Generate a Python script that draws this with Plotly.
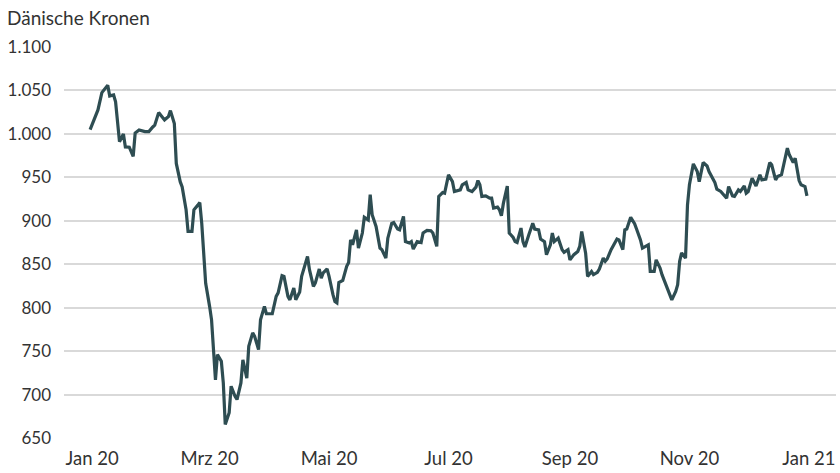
import plotly.graph_objects as go

dates = [
    "2019-12-31", "2020-01-03", "2020-01-04", "2020-01-06", "2020-01-09", "2020-01-10",
    "2020-01-12", "2020-01-13", "2020-01-15", "2020-01-17", "2020-01-18", "2020-01-20",
    "2020-01-22", "2020-01-23", "2020-01-25", "2020-01-28", "2020-01-30", "2020-02-01",
    "2020-02-02", "2020-02-04", "2020-02-07", "2020-02-09", "2020-02-10", "2020-02-12",
    "2020-02-13", "2020-02-15", "2020-02-16", "2020-02-18", "2020-02-19", "2020-02-21",
    "2020-02-22", "2020-02-24", "2020-02-25", "2020-02-26", "2020-02-28",
    "2020-03-01", "2020-03-02", "2020-03-03", "2020-03-04", "2020-03-05", "2020-03-07",
    "2020-03-08", "2020-03-09", "2020-03-11", "2020-03-12", "2020-03-14", "2020-03-15",
    "2020-03-17", "2020-03-18", "2020-03-20", "2020-03-21", "2020-03-23", "2020-03-24",
    "2020-03-26", "2020-03-27", "2020-03-29", "2020-03-30",
    "2020-04-02", "2020-04-04", "2020-04-05", "2020-04-07", "2020-04-08", "2020-04-10",
    "2020-04-11", "2020-04-13", "2020-04-14", "2020-04-16", "2020-04-17", "2020-04-20",
    "2020-04-21", "2020-04-23", "2020-04-24", "2020-04-26", "2020-04-27", "2020-04-28",
    "2020-04-30",
    "2020-05-01", "2020-05-03", "2020-05-04", "2020-05-05", "2020-05-06", "2020-05-08",
    "2020-05-10", "2020-05-11", "2020-05-12", "2020-05-13", "2020-05-15", "2020-05-16",
    "2020-05-18", "2020-05-19", "2020-05-21", "2020-05-22", "2020-05-23", "2020-05-25",
    "2020-05-27", "2020-05-28", "2020-05-30", "2020-05-31",
    "2020-06-02", "2020-06-03", "2020-06-05", "2020-06-06", "2020-06-08", "2020-06-09",
    "2020-06-11", "2020-06-12", "2020-06-13", "2020-06-15", "2020-06-17", "2020-06-18",
    "2020-06-20", "2020-06-22", "2020-06-23", "2020-06-25", "2020-06-26", "2020-06-28",
    "2020-06-29",
    "2020-07-01", "2020-07-03", "2020-07-04", "2020-07-07", "2020-07-08", "2020-07-10",
    "2020-07-11", "2020-07-13", "2020-07-15", "2020-07-16", "2020-07-17", "2020-07-18",
    "2020-07-20", "2020-07-22", "2020-07-23", "2020-07-24", "2020-07-26", "2020-07-27",
    "2020-07-28", "2020-07-29", "2020-07-31",
    "2020-08-01", "2020-08-03", "2020-08-04", "2020-08-05", "2020-08-07", "2020-08-08",
    "2020-08-09", "2020-08-11", "2020-08-13", "2020-08-14", "2020-08-16", "2020-08-17",
    "2020-08-19", "2020-08-20", "2020-08-22", "2020-08-23", "2020-08-24", "2020-08-26",
    "2020-08-28", "2020-08-29", "2020-08-31",
    "2020-09-01", "2020-09-03", "2020-09-05", "2020-09-06", "2020-09-07", "2020-09-09",
    "2020-09-10", "2020-09-12", "2020-09-13", "2020-09-15", "2020-09-16", "2020-09-18",
    "2020-09-19", "2020-09-20", "2020-09-22", "2020-09-23", "2020-09-25", "2020-09-26",
    "2020-09-28", "2020-09-29", "2020-09-30",
    "2020-10-02", "2020-10-04", "2020-10-05", "2020-10-07", "2020-10-08", "2020-10-10",
    "2020-10-11", "2020-10-12", "2020-10-14", "2020-10-15", "2020-10-17", "2020-10-18",
    "2020-10-20", "2020-10-21", "2020-10-23", "2020-10-25", "2020-10-26", "2020-10-27",
    "2020-10-28", "2020-10-30", "2020-10-31",
    "2020-11-01", "2020-11-03", "2020-11-05", "2020-11-06", "2020-11-08", "2020-11-10",
    "2020-11-11", "2020-11-13", "2020-11-14", "2020-11-15", "2020-11-17", "2020-11-20",
    "2020-11-21", "2020-11-23", "2020-11-24", "2020-11-26", "2020-11-27", "2020-11-29",
    "2020-11-30",
    "2020-12-01", "2020-12-03", "2020-12-05", "2020-12-07", "2020-12-08", "2020-12-10",
    "2020-12-12", "2020-12-13", "2020-12-15", "2020-12-16", "2020-12-18", "2020-12-21",
    "2020-12-22", "2020-12-24", "2020-12-25", "2020-12-27", "2020-12-28", "2020-12-30",
    "2020-12-31",
]

values = [
    1005, 1024, 1027.6, 1047.5, 1056, 1043.7,
    1044.8, 1037, 991, 1000, 985, 984.7,
    974, 1001, 1004.6, 1002.7, 1002.7, 1008,
    1010, 1024.5, 1016, 1020, 1026.8, 1012,
    966, 945, 939, 912.6, 887.7, 887.7,
    912.6, 918, 921, 897, 828,
    801.5, 786, 751.7, 717, 746, 738.3,
    713.4, 665.5, 679, 709.6, 698, 694.3,
    713.4, 740, 719, 755.5, 771, 767,
    751.7, 786, 801.5, 793,
    793, 813, 817, 836.8, 836, 813,
    809, 822.6, 809, 818, 836, 859,
    843.7, 824.5, 828.4, 844.5, 834, 840,
    844.5,
    836, 815, 807, 805.4, 829, 831.4,
    847.5, 852, 878, 872.4, 889.6, 868.6,
    885.9, 904, 901, 930, 907, 893.5,
    868.6, 866.7, 857, 880,
    897, 898, 890.5, 889.6, 905, 876,
    874.4, 876, 867.5, 876, 875, 885.9,
    888.9, 888.5, 885.9, 870.5, 928, 932.5,
    931.8,
    953, 945, 933.7, 935.6, 941.4, 944,
    935.6, 933.7, 938.7, 946.3, 941.4, 928,
    928.7, 926, 926, 914.6, 915.7, 912.6,
    905.7, 920, 940,
    885.9, 880.8, 876, 875, 891.6, 876,
    869.8, 884, 897, 890.5, 889.6, 879,
    876, 861, 872.4, 885.9, 876, 880,
    866.7, 863.6, 866.7,
    855, 861, 864.7, 870.5, 887.7, 862.8,
    836, 841.7, 838, 840.6, 844.5, 857,
    853.3, 856, 866.7, 870.5, 879, 878,
    866.7, 889.6, 890.5,
    904, 896.6, 890.5, 878, 868.6, 871,
    872.4, 841.7, 841.7, 855, 845.6, 838,
    826.4, 822.6, 809, 818.7, 826.4, 853.3,
    863, 857, 918,
    941.4, 965.5, 956.7, 945, 967, 963,
    956.7, 947, 944, 936.4, 933.7, 926,
    939.4, 928.7, 928, 935.6, 933.7, 940,
    931.8,
    933.7, 949, 940, 953, 947, 948,
    967, 964.4, 947, 951, 953, 983.6,
    975.9, 967, 972, 946.3, 941.4, 939.4,
    928.7,
]

y_tickvals = [650, 700, 750, 800, 850, 900, 950, 1000, 1050, 1100]
y_ticktext = ["650", "700", "750", "800", "850", "900", "950", "1.000", "1.050", "1.100"]
x_tickvals = ["2020-01-01", "2020-03-01", "2020-05-01", "2020-07-01", "2020-09-01", "2020-11-01", "2021-01-01"]
x_ticktext = ["Jan 20", "Mrz 20", "Mai 20", "Jul 20", "Sep 20", "Nov 20", "Jan 21"]
y_title = "Dänische Kronen"

FONT = "Lato, 'Source Sans Pro', 'Noto Sans', sans-serif"
LINE = "#2e4d52"
TEXT = "#333333"
GRID = "#d9d9d9"

fig = go.Figure()
fig.add_trace(go.Scatter(
    x=dates, y=values, mode="lines",
    line=dict(color=LINE, width=3.2, shape="linear"),
    hoverinfo="x+y", showlegend=False,
))

fig.update_layout(
    width=840, height=473,
    margin=dict(l=64, r=4, t=47, b=35, autoexpand=False),
    paper_bgcolor="white", plot_bgcolor="white",
    font=dict(family=FONT, size=17, color=TEXT),
    showlegend=False,
    annotations=[dict(
        text=y_title, xref="paper", yref="paper",
        x=-0.0764, y=1.0767, xanchor="left", yanchor="middle",
        showarrow=False, font=dict(family=FONT, size=19, color=TEXT),
    )],
)

fig.update_xaxes(
    range=["2019-12-17 16:00", "2021-01-14 20:00"],
    tickvals=x_tickvals, ticktext=x_ticktext,
    showgrid=False, zeroline=False, showline=False,
    ticks="", ticklabelstandoff=7, automargin=False,
    tickfont=dict(family=FONT, size=18.5, color=TEXT),
)
fig.update_yaxes(
    range=[650, 1100],
    tickvals=y_tickvals, ticktext=y_ticktext,
    showgrid=True, gridcolor=GRID, gridwidth=1.5,
    zeroline=False, showline=False,
    ticks="", ticklabelstandoff=12, automargin=False,
    tickfont=dict(family=FONT, size=17, color=TEXT),
)

# remove the page's default 8px body margin so the figure fills the window exactly
fig.write_html(
    "out.html",
    config={"displayModeBar": False},
    post_script="document.body.style.margin='0px';",
)
